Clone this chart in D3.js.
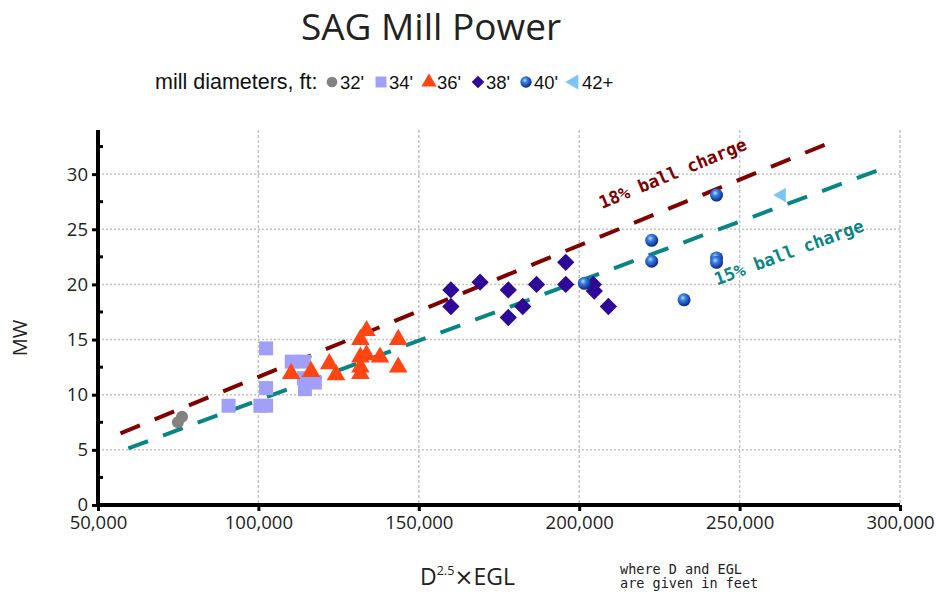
<!DOCTYPE html>
<html><head><meta charset="utf-8">
<script src="https://cdn.jsdelivr.net/npm/d3@7"></script>
<style>body{margin:0;background:#fff}svg{display:block}</style>
</head><body>
<svg id="c" width="936" height="592"></svg>
<script>
// ---- data (x in thousands of D^2.5*EGL, y in MW) ----
const xTicks = [50, 100, 150, 200, 250, 300];
const yTicks = [0, 5, 10, 15, 20, 25, 30];
const yMinorTicks = [2.5, 7.5, 12.5, 17.5, 22.5, 27.5, 32.5];
const legendLabels = ["32'", "34'", "36'", "38'", "40'", "42+"];
const mill32 = [[74.9, 7.5], [76.2, 8.0]];
const mill34 = [[90.7, 9.0], [100.6, 9.0], [102.4, 9.0], [102.4, 10.6], [102.4, 14.2],
  [110.4, 13.0], [114.2, 13.0], [114.2, 11.5], [117.6, 11.1], [114.5, 10.5]];
const mill36 = [[110.2, 11.9], [116.4, 12.1], [122.1, 12.8], [124.2, 11.8], [133.7, 15.8],
  [131.8, 15.0], [131.8, 13.4], [133.7, 13.6], [137.9, 13.4], [131.8, 12.5], [131.8, 11.9],
  [143.6, 15.0], [143.6, 12.5]];
const mill38 = [[160.0, 19.5], [160.0, 18.0], [169.1, 20.2], [177.9, 19.5], [177.9, 17.0],
  [182.4, 18.0], [186.7, 20.0], [195.8, 22.0], [195.8, 20.0], [204.4, 20.0], [204.7, 19.4],
  [209.1, 18.0]];
const mill40 = [[201.6, 20.1], [222.6, 24.0], [222.6, 22.1], [232.7, 18.6], [242.8, 28.1],
  [242.8, 22.4], [242.8, 22.0]];
const mill42 = [[263.1, 28.1]];
const line18 = [[57.0, 6.49], [276.6, 32.67]];
const line15 = [[59.45, 5.13], [294.3, 30.47]];

const svg = d3.select("#c");
const m = {l: 98, r: 900, t: 130, b: 505};
const x = d3.scaleLinear().domain([50, 300]).range([m.l, m.r]);
const y = d3.scaleLinear().domain([0, 34]).range([m.b, m.t]);

// gradient for 40' balls
const defs = svg.append("defs");
const g = defs.append("radialGradient").attr("id", "ball").attr("cx", "40%").attr("cy", "35%").attr("r", "65%");
g.append("stop").attr("offset", "0%").attr("stop-color", "#bfe0ff");
g.append("stop").attr("offset", "30%").attr("stop-color", "#3f86e6");
g.append("stop").attr("offset", "75%").attr("stop-color", "#1747b0");
g.append("stop").attr("offset", "100%").attr("stop-color", "#0c2a7a");

// title
svg.append("text").attr("x", 431).attr("y", 40).attr("text-anchor", "middle")
  .attr("font-family", "Open Sans").attr("font-size", 37).attr("fill", "#222").text("SAG Mill Power");

// grid
const grid = svg.append("g");
grid.selectAll("line.v").data(xTicks.filter(d => d > 50)).join("line")
  .attr("x1", d => x(d)).attr("x2", d => x(d)).attr("y1", m.t).attr("y2", m.b)
  .attr("stroke", "#c4c4c4").attr("stroke-width", 1.5).attr("stroke-dasharray", "3,2");
grid.selectAll("line.h").data(yTicks.filter(d => d > 0)).join("line")
  .attr("x1", m.l).attr("x2", m.r).attr("y1", d => y(d)).attr("y2", d => y(d))
  .attr("stroke", "#c4c4c4").attr("stroke-width", 1.5).attr("stroke-dasharray", "2,2");

// axes
const fmt = d => d3.format(",")(d * 1000);
const xa = svg.append("g").attr("transform", `translate(0,${m.b})`)
  .call(d3.axisBottom(x).tickValues(xTicks).tickFormat(fmt).tickSize(6).tickPadding(5));
xa.select(".domain").attr("stroke-width", 4).attr("d", `M${m.l - 2},0H${m.r}`);
xa.selectAll(".tick line").attr("stroke-width", 3);
xa.selectAll("text").attr("font-family", "Open Sans").attr("font-size", 18.5).attr("fill", "#222");

const ya = svg.append("g").attr("transform", `translate(${m.l},0)`)
  .call(d3.axisLeft(y).tickValues(yTicks).tickSize(6).tickPadding(4));
ya.select(".domain").attr("stroke-width", 4).attr("d", `M0,${m.t}V${m.b + 2}`);
ya.selectAll(".tick line").attr("stroke-width", 3);
ya.selectAll("text").attr("font-family", "Open Sans").attr("font-size", 18.5).attr("fill", "#222");
svg.append("g").selectAll("line").data(yMinorTicks).join("line")
  .attr("x1", m.l).attr("x2", m.l + 5).attr("y1", d => y(d)).attr("y2", d => y(d))
  .attr("stroke", "#000").attr("stroke-width", 3);

// trend lines
const lg = d3.line().x(d => x(d[0])).y(d => y(d[1]));
svg.append("path").attr("d", lg(line18)).attr("stroke", "#800000").attr("stroke-width", 4)
  .attr("stroke-dasharray", "21,16").attr("fill", "none");
svg.append("path").attr("d", lg(line15)).attr("stroke", "#0a8585").attr("stroke-width", 4)
  .attr("stroke-dasharray", "21,16").attr("fill", "none");

function angleOf(l) {
  return Math.atan2(y(l[1][1]) - y(l[0][1]), x(l[1][0]) - x(l[0][0])) * 180 / Math.PI;
}
svg.append("text").attr("transform", `translate(675,179) rotate(${angleOf(line18)})`)
  .attr("text-anchor", "middle").attr("font-family", "DejaVu Sans Mono").attr("font-weight", "bold")
  .attr("font-size", 17.5).attr("fill", "#800000").text("18% ball charge");
svg.append("text").attr("transform", `translate(791,258) rotate(${angleOf(line15)})`)
  .attr("text-anchor", "middle").attr("font-family", "DejaVu Sans Mono").attr("font-weight", "bold")
  .attr("font-size", 17.5).attr("fill", "#0a8585").text("15% ball charge");

// markers
const sym = {
  circle: d3.symbol().type(d3.symbolCircle).size(113),
  square: d3.symbol().type(d3.symbolSquare).size(196),
  triangle: d3.symbol().type(d3.symbolTriangle).size(150),
  diamond: d3.symbol().type(d3.symbolSquare).size(150),
  ball: d3.symbol().type(d3.symbolCircle).size(133),
  left: d3.symbol().type(d3.symbolTriangle).size(90)
};
const series = [
  {data: mill32, s: "circle", fill: "#828282", rot: 0},
  {data: mill34, s: "square", fill: "#a0a0f8", rot: 0},
  {data: mill36, s: "triangle", fill: "#ff4612", rot: 0},
  {data: mill38, s: "diamond", fill: "#2e0896", rot: 45},
  {data: mill40, s: "ball", fill: "url(#ball)", rot: 0},
  {data: mill42, s: "left", fill: "#7cc4f8", rot: -90}
];
series.forEach(se => {
  svg.append("g").selectAll("path").data(se.data).join("path")
    .attr("d", sym[se.s]())
    .attr("transform", d => `translate(${x(d[0])},${y(d[1])}) rotate(${se.rot})`)
    .attr("fill", se.fill);
});

// legend
const leg = svg.append("g").attr("font-family", "Liberation Sans").attr("fill", "#111");
leg.append("text").attr("x", 155).attr("y", 89).attr("font-size", 21.5).text("mill diameters, ft:");
const legX = [332, 381, 429, 478, 526, 574];
const legSize = {circle: 90, square: 120, triangle: 100, diamond: 80, ball: 100, left: 100};
series.forEach((se, i) => {
  leg.append("path").attr("d", d3.symbol().type(se.s === "circle" || se.s === "ball" ? d3.symbolCircle :
      se.s === "triangle" || se.s === "left" ? d3.symbolTriangle : d3.symbolSquare).size(legSize[se.s])())
    .attr("transform", `translate(${legX[i]},${82}) rotate(${se.rot})`).attr("fill", se.fill);
  leg.append("text").attr("x", legX[i] + 8).attr("y", 89).attr("font-size", 18.5).text(legendLabels[i]);
});

// axis titles
svg.append("text").attr("transform", "translate(27,338) rotate(-90)").attr("text-anchor", "middle")
  .attr("font-family", "Open Sans").attr("font-size", 20).attr("fill", "#222").text("MW");
const xl = svg.append("text").attr("x", 420).attr("y", 585).attr("font-family", "Open Sans")
  .attr("font-size", 23).attr("fill", "#222");
xl.append("tspan").text("D");
xl.append("tspan").attr("font-size", 12.5).attr("dy", -10).text("2.5");
xl.append("tspan").attr("dy", 10).attr("font-family", "DejaVu Sans").text("×");
xl.append("tspan").text("EGL");
const fn = svg.append("g").attr("font-family", "DejaVu Sans Mono").attr("font-size", 13.5).attr("fill", "#222");
fn.append("text").attr("x", 620).attr("y", 574).text("where D and EGL");
fn.append("text").attr("x", 620).attr("y", 588).text("are given in feet");
</script>
</body></html>
